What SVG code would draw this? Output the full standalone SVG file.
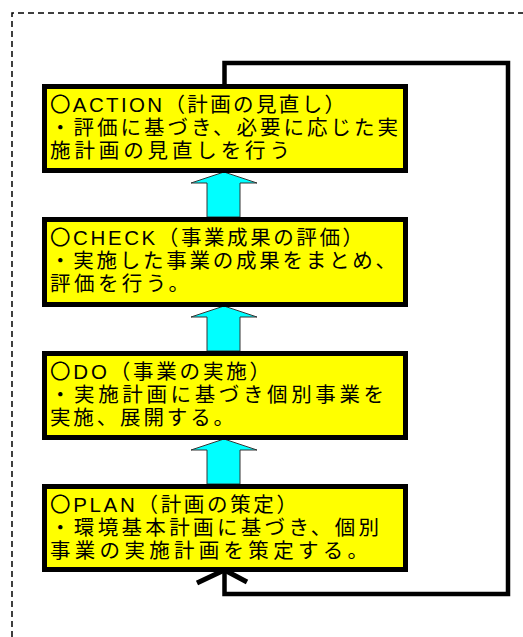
<svg xmlns="http://www.w3.org/2000/svg" width="523" height="637" viewBox="0 0 523 637">
<style>
.frame{fill:none;stroke:#000;stroke-width:1.5;stroke-dasharray:6 4}
.box{fill:#FFFF00;stroke:#000;stroke-width:5}
.t{font-family:"Liberation Sans","Noto Sans CJK JP",sans-serif;font-size:20.5px;fill:#000}
.up{fill:#00FFFF;stroke:#333;stroke-width:1}
.loop{fill:none;stroke:#000;stroke-width:4.5}
.head{fill:none;stroke:#000;stroke-width:5}
</style>
<rect width="523" height="637" fill="#fff"/>
<path class="frame" d="M12,637 V13 H523"/>
<g id="connectors">
<path class="loop" d="M224.5,84 V63 H508 V594 H224.5 V572"/>
<path class="head" d="M197,583 L224.5,570 L247,582"/>
<polygon class="up" points="224,172 257,183 240,183 240,217 207,217 207,183 191,183"/>
<polygon class="up" points="224,306 257,317 240,317 240,351 207,351 207,317 191,317"/>
<polygon class="up" points="224,439 257,450 240,450 240,484 207,484 207,450 191,450"/>
</g>
<g id="action">
<rect class="box" x="44.5" y="86.5" width="361" height="84"/>
<text class="t" x="50" y="112" textLength="295" lengthAdjust="spacing">〇ACTION（計画の見直し）</text>
<text class="t" x="50" y="135" textLength="348" lengthAdjust="spacing">・評価に基づき、必要に応じた実</text>
<text class="t" x="50" y="158" textLength="240" lengthAdjust="spacing">施計画の見直しを行う</text>
</g>
<g id="check">
<rect class="box" x="44.5" y="219.5" width="361" height="85"/>
<text class="t" x="50" y="245" textLength="313" lengthAdjust="spacing">〇CHECK（事業成果の評価）</text>
<text class="t" x="50" y="268" textLength="346" lengthAdjust="spacing">・実施した事業の成果をまとめ、</text>
<text class="t" x="50" y="291" textLength="139" lengthAdjust="spacing">評価を行う。</text>
</g>
<g id="do">
<rect class="box" x="44.5" y="353.5" width="361" height="84"/>
<text class="t" x="50" y="379" textLength="220" lengthAdjust="spacing">〇DO（事業の実施）</text>
<text class="t" x="50" y="402" textLength="334" lengthAdjust="spacing">・実施計画に基づき個別事業を</text>
<text class="t" x="50" y="425" textLength="184" lengthAdjust="spacing">実施、展開する。</text>
</g>
<g id="plan">
<rect class="box" x="44.5" y="486.5" width="361" height="83"/>
<text class="t" x="50" y="512" textLength="247" lengthAdjust="spacing">〇PLAN（計画の策定）</text>
<text class="t" x="50" y="535" textLength="329" lengthAdjust="spacing">・環境基本計画に基づき、個別</text>
<text class="t" x="50" y="558" textLength="318" lengthAdjust="spacing">事業の実施計画を策定する。</text>
</g>
</svg>
